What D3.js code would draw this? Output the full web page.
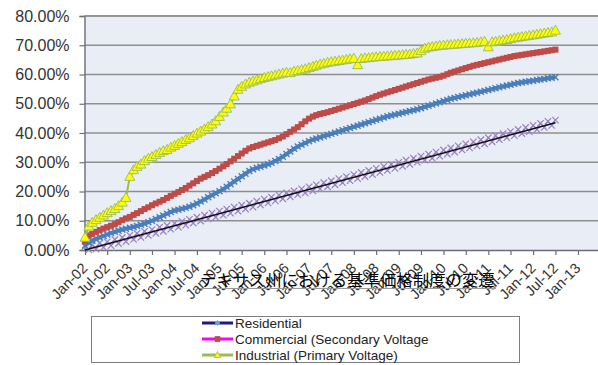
<!DOCTYPE html>
<html>
<head>
<meta charset="utf-8">
<script src="https://cdn.jsdelivr.net/npm/d3@7/dist/d3.min.js"></script>
<style>
  html, body { margin: 0; padding: 0; background: #ffffff; }
  svg { display: block; }
</style>
</head>
<body>
<svg id="chart" width="598" height="365"></svg>
<script>
// Monthly series, Jan-2002 through Jul-2012 (percent)
const startMonth = new Date(2002, 0, 1);

const residential = [
  1.5, 2.5, 3.2, 3.8, 4.3, 4.8, 5.3, 5.8, 6.2, 6.6, 7.0, 7.3,
  7.6, 7.9, 8.2, 8.6, 9.0, 9.5, 10.0, 10.6, 11.2, 11.8, 12.4, 13.0,
  13.5, 13.8, 14.1, 14.4, 14.8, 15.3, 15.9, 16.6, 17.3, 18.0, 18.7, 19.4,
  20.1, 20.8, 21.6, 22.5, 23.4, 24.3, 25.2, 26.1, 27.0, 27.6, 28.1, 28.5,
  28.9, 29.3, 29.8, 30.4, 31.1, 31.9, 32.8, 33.7, 34.6, 35.4, 36.0, 36.6,
  37.2, 37.7, 38.1, 38.5, 38.9, 39.3, 39.7, 40.1, 40.5, 40.9, 41.3, 41.7,
  42.1, 42.5, 42.9, 43.3, 43.7, 44.1, 44.5, 44.9, 45.3, 45.7, 46.0, 46.3,
  46.6, 46.9, 47.2, 47.5, 47.8, 48.1, 48.5, 48.9, 49.3, 49.7, 50.1, 50.5,
  50.9, 51.3, 51.7, 52.0, 52.3, 52.6, 52.9, 53.2, 53.5, 53.8, 54.1, 54.4,
  54.7, 55.0, 55.3, 55.6, 55.9, 56.2, 56.5, 56.8, 57.1, 57.3, 57.5, 57.7,
  57.9, 58.1, 58.3, 58.5, 58.7, 58.9, 59.1
];

const commercial = [
  3.0, 5.0, 5.5, 6.2, 6.8, 7.3, 7.8, 8.3, 8.8, 9.5, 10.2, 10.8,
  11.3, 12.0, 12.6, 13.3, 14.0, 14.6, 15.3, 15.9, 16.5, 17.1, 17.8, 18.5,
  19.2, 19.8, 20.5, 21.2, 22.0, 22.8, 23.6, 24.4, 25.0, 25.6, 26.3, 27.0,
  27.8, 28.6, 29.4, 30.3, 31.2, 32.1, 33.0, 33.9, 34.7, 35.2, 35.6, 36.0,
  36.4, 36.8, 37.2, 37.6, 38.2, 38.8, 39.6, 40.4, 41.2, 42.0, 43.0, 44.0,
  44.9, 45.6, 46.1, 46.5, 46.8, 47.1, 47.5, 47.9, 48.3, 48.7, 49.1, 49.5,
  49.9, 50.3, 50.7, 51.1, 51.6, 52.1, 52.6, 53.1, 53.5, 53.9, 54.3, 54.7,
  55.1, 55.5, 55.9, 56.3, 56.7, 57.1, 57.5, 57.9, 58.3, 58.6, 58.9, 59.2,
  59.6, 60.1, 60.6, 61.0, 61.4, 61.8, 62.2, 62.6, 63.0, 63.3, 63.6, 63.9,
  64.2, 64.5, 64.8, 65.1, 65.4, 65.7, 66.0, 66.3, 66.5, 66.7, 66.9, 67.1,
  67.3, 67.5, 67.7, 67.9, 68.1, 68.3, 68.5
];

const industrial = [
  4.2, 8.0, 9.3, 10.2, 11.0, 11.8, 12.6, 13.3, 14.0, 15.0, 16.2, 17.8,
  25.0, 27.3, 28.4, 29.2, 30.4, 31.2, 31.8, 32.5, 33.2, 33.8, 34.2, 35.0,
  35.6, 36.3, 36.9, 37.6, 38.2, 39.0, 39.8, 40.5, 41.2, 42.0, 42.9, 44.0,
  45.5, 47.0, 48.3, 49.8, 52.5, 54.8, 55.8, 56.6, 57.2, 57.6, 58.0, 58.4,
  58.8, 59.1, 59.4, 59.7, 60.0, 60.3, 60.6, 60.5, 61.0, 61.2, 61.5, 61.8,
  62.2, 62.6, 63.0, 63.4, 63.7, 64.0, 64.2, 64.4, 64.6, 64.8, 65.0, 65.2,
  65.4, 63.2, 65.3, 65.5, 65.6, 65.8, 65.9, 66.0, 66.1, 66.2, 66.3, 66.4,
  66.5, 66.6, 66.7, 66.8, 67.0, 67.2, 68.0, 68.8, 69.2, 69.4, 69.6, 69.8,
  69.9, 70.0, 70.1, 70.2, 70.3, 70.4, 70.5, 70.6, 70.7, 70.8, 71.0, 71.2,
  69.3, 71.0, 71.2, 71.4, 71.6, 71.8, 72.1, 72.4, 72.6, 72.8, 73.0, 73.2,
  73.4, 73.6, 73.8, 74.0, 74.2, 74.4, 75.0
];

const baseline = [
  1.2, 0.0, 1.8, 0.3, 2.4, 0.9, 2.8, 1.5, 3.6, 2.2, 4.3, 2.9,
  5.0, 3.6, 5.7, 4.3, 6.4, 5.0, 7.0, 5.7, 7.8, 6.4, 8.4, 7.1,
  9.1, 7.8, 9.8, 8.5, 10.5, 9.2, 11.2, 9.9, 11.9, 10.6, 12.6, 11.2,
  13.3, 11.9, 14.0, 12.6, 14.7, 13.3, 15.3, 14.0, 16.0, 14.7, 16.7, 15.4,
  17.4, 16.1, 18.1, 16.8, 18.8, 17.5, 19.5, 18.2, 20.2, 18.9, 20.9, 19.5,
  21.6, 20.2, 22.3, 20.9, 23.0, 21.6, 23.7, 22.3, 24.4, 23.0, 25.1, 23.7,
  25.8, 24.4, 26.5, 25.1, 27.2, 25.8, 27.9, 26.5, 28.6, 27.2, 29.3, 27.9,
  30.0, 28.6, 30.7, 29.3, 31.4, 30.0, 32.1, 30.7, 32.8, 31.4, 33.5, 32.1,
  34.2, 32.8, 34.9, 33.5, 35.6, 34.2, 36.3, 34.9, 37.0, 35.6, 37.7, 36.3,
  38.4, 37.0, 39.1, 37.7, 39.8, 38.4, 40.5, 39.1, 41.2, 39.8, 41.9, 40.5,
  42.6, 41.2, 43.3, 41.9, 44.0, 42.6, 44.4
];

// Straight trend line: first and last month values
const trendValues = [0.0, 43.5];

const yTicks = [0, 10, 20, 30, 40, 50, 60, 70, 80];
const titleText = "テキサス州における基準価格制度の変遷";
const legendLabels = [
  "Residential",
  "Commercial (Secondary Voltage",
  "Industrial (Primary Voltage)"
];

const months = residential.map((_, i) => d3.timeMonth.offset(startMonth, i));

const svg = d3.select("#chart");
const plot = { left: 84.5, top: 16, right: 598, bottom: 250 };

const x = d3.scaleTime()
  .domain([new Date(2002, 0, 1), new Date(2013, 0, 1)])
  .range([85, 578]);
const y = d3.scaleLinear().domain([0, 80]).range([plot.bottom, plot.top]);

// plot background
svg.append("rect")
  .attr("x", plot.left).attr("y", plot.top)
  .attr("width", plot.right - plot.left).attr("height", plot.bottom - plot.top)
  .attr("fill", "#e9edf5");

// horizontal gridlines
svg.append("g").selectAll("line").data(yTicks.filter(d => d > 0)).join("line")
  .attr("x1", plot.left).attr("x2", plot.right)
  .attr("y1", d => y(d)).attr("y2", d => y(d))
  .attr("stroke", "#8f8f8f").attr("stroke-width", 1.4);

// y axis
const yAxis = d3.axisLeft(y).tickValues(yTicks).tickSize(5).tickPadding(10)
  .tickFormat(d => d.toFixed(2) + "%");
const gy = svg.append("g").attr("transform", `translate(${plot.left},0)`).call(yAxis);
gy.select(".domain").attr("stroke", "#6e6e6e").attr("stroke-width", 1.4);
gy.selectAll(".tick line").attr("stroke", "#6e6e6e").attr("stroke-width", 1.2);
gy.selectAll("text")
  .attr("font-family", "'Liberation Sans', Arial, sans-serif")
  .attr("font-size", 16).attr("fill", "#333333");

// x axis
const xTickDates = d3.timeMonth.every(6).range(new Date(2002, 0, 1), new Date(2013, 0, 2));
const xAxis = d3.axisBottom(x).tickValues(xTickDates).tickSize(5).tickSizeOuter(0)
  .tickFormat(d3.timeFormat("%b-%y"));
const gx = svg.append("g").attr("transform", `translate(0,${plot.bottom})`).call(xAxis);
gx.select(".domain").attr("d", `M${plot.left},0.5H${plot.right}`)
  .attr("stroke", "#6e6e6e").attr("stroke-width", 1.4);
gx.selectAll(".tick line").attr("stroke", "#6e6e6e").attr("stroke-width", 1.2);
gx.selectAll("text")
  .attr("font-family", "'Liberation Sans', Arial, sans-serif")
  .attr("font-size", 14.5).attr("fill", "#333333")
  .attr("text-anchor", "end")
  .attr("x", 0).attr("y", 0).attr("dy", null)
  .attr("transform", "translate(3,19) rotate(-45)");

// top border of plot area
svg.append("line")
  .attr("x1", plot.left).attr("x2", plot.right)
  .attr("y1", plot.top).attr("y2", plot.top)
  .attr("stroke", "#8f8f8f").attr("stroke-width", 1.4);

const line = d3.line().x((d, i) => x(months[i])).y(d => y(d));

// baseline series: thin lavender line with x markers
svg.append("path").datum(baseline)
  .attr("d", line).attr("fill", "none")
  .attr("stroke", "#9c84c4").attr("stroke-width", 1.2);
svg.append("g").selectAll("path").data(baseline).join("path")
  .attr("transform", (d, i) => `translate(${x(months[i])},${y(d)})`)
  .attr("d", "M-3.2,-3.2L3.2,3.2M-3.2,3.2L3.2,-3.2")
  .attr("stroke", "#9a80c2").attr("stroke-width", 1.2);

// linear trend
svg.append("line")
  .attr("x1", x(months[0])).attr("y1", y(trendValues[0]))
  .attr("x2", x(months[months.length - 1])).attr("y2", y(trendValues[1]))
  .attr("stroke", "#111111").attr("stroke-width", 1.5);

// Residential
svg.append("path").datum(residential)
  .attr("d", line).attr("fill", "none")
  .attr("stroke", "#4a7ebb").attr("stroke-width", 4);
svg.append("g").selectAll("path").data(residential).join("path")
  .attr("transform", (d, i) => `translate(${x(months[i])},${y(d)})`)
  .attr("d", "M-3,-3L3,3M-3,3L3,-3")
  .attr("stroke", "#4a7ebb").attr("stroke-width", 1.4);

// Commercial
svg.append("path").datum(commercial)
  .attr("d", line).attr("fill", "none")
  .attr("stroke", "#be4b48").attr("stroke-width", 4);
svg.append("g").selectAll("rect").data(commercial).join("rect")
  .attr("x", (d, i) => x(months[i]) - 3).attr("y", d => y(d) - 3)
  .attr("width", 6).attr("height", 6)
  .attr("fill", "#be4b48");

// Industrial
svg.append("path").datum(industrial)
  .attr("d", line).attr("fill", "none")
  .attr("stroke", "#9bbb59").attr("stroke-width", 2);
svg.append("g").selectAll("path").data(industrial).join("path")
  .attr("transform", (d, i) => `translate(${x(months[i])},${y(d)})`)
  .attr("d", "M0,-5.5L5,3.5L-5,3.5Z")
  .attr("fill", "#ffff00").attr("stroke", "#9bbb59").attr("stroke-width", 0.9);

// title caption across the lower axis area
svg.append("line")
  .attr("x1", 200).attr("x2", 496).attr("y1", 288.5).attr("y2", 288.5)
  .attr("stroke", "#9a9a9a").attr("stroke-width", 1.2);
svg.append("text")
  .attr("x", 200).attr("y", 286)
  .attr("font-family", "'Noto Sans CJK JP', sans-serif")
  .attr("font-size", 16.4).attr("fill", "#000000")
  .text(titleText);

// legend
const legend = svg.append("g");
legend.append("rect")
  .attr("x", 91.5).attr("y", 316.5).attr("width", 428).attr("height", 46)
  .attr("fill", "#ffffff").attr("stroke", "#7f7f7f").attr("stroke-width", 1);

const legendStyles = [
  { line: "#1f1a78", marker: "diamond", fill: "#6a9fd8", stroke: "#6a9fd8" },
  { line: "#ff00ff", marker: "square", fill: "#be4b48", stroke: "#be4b48" },
  { line: "#9bbb59", marker: "triangle", fill: "#ffff00", stroke: "#9bbb59" }
];
const legendRows = [323, 339, 355];

legendLabels.forEach((label, i) => {
  const st = legendStyles[i];
  const cy = legendRows[i];
  legend.append("line")
    .attr("x1", 202).attr("x2", 233).attr("y1", cy).attr("y2", cy)
    .attr("stroke", st.line).attr("stroke-width", 3);
  const m = legend.append("path").attr("transform", `translate(217.5,${cy})`)
    .attr("fill", st.fill).attr("stroke", st.stroke).attr("stroke-width", 0.8);
  if (st.marker === "diamond") m.attr("d", "M0,-2.5L2.5,0L0,2.5L-2.5,0Z");
  else if (st.marker === "square") m.attr("d", "M-2.5,-2.5H2.5V2.5H-2.5Z");
  else m.attr("d", "M0,-3.5L3.3,2.5L-3.3,2.5Z");
  legend.append("text")
    .attr("x", 235).attr("y", cy).attr("dy", "0.35em")
    .attr("font-family", "'Liberation Sans', Arial, sans-serif")
    .attr("font-size", 13.5).attr("fill", "#222222")
    .text(label);
});
</script>
</body>
</html>
